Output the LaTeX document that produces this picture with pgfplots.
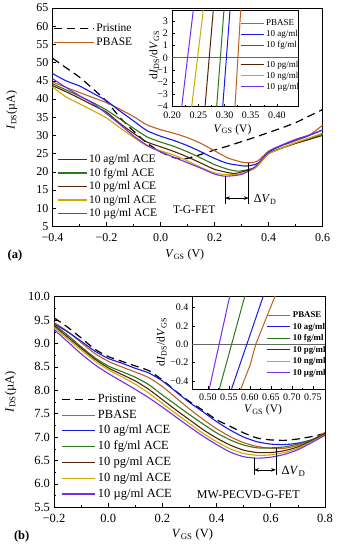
\documentclass[border=0pt]{standalone}
\usepackage{pgfplots}
\pgfplotsset{compat=1.18}
\usepackage{fontspec}
\setmainfont{Liberation Serif}
\usetikzlibrary{arrows.meta}
\definecolor{cpb}{RGB}{190,95,35}
\definecolor{cag}{RGB}{25,25,235}
\definecolor{cfg}{RGB}{45,120,25}
\definecolor{cpg}{RGB}{85,35,10}
\definecolor{cng}{RGB}{205,170,0}
\definecolor{cug}{RGB}{115,45,235}
\newcommand{\fs}[1]{\fontsize{#1}{#1}\selectfont}
\pgfplotsset{
  base/.style={scale only axis, anchor=south west,
    /pgf/number format/assume math mode=true,
    axis line style={line width=0.7pt},
    every tick/.style={black, line width=0.6pt},
    major tick length=4pt, minor tick length=2pt, tick align=inside,
    xtick pos=left, ytick pos=left},
  crv/.style={line width=1.1pt, smooth, tension=0.35},
}
\begin{document}
\begin{tikzpicture}
\path[use as bounding box] (0pt,0pt) rectangle (339pt,550pt);

%================ Panel (a) main ================
\begin{axis}[base, at={(52.5pt,323.5pt)}, width=270pt, height=218.5pt,
  xmin=-0.4, xmax=0.6, ymin=5, ymax=65,
  xtick={-0.4,-0.2,0,0.2,0.4,0.6}, xticklabels={−0.4,−0.2,0.0,0.2,0.4,0.6},
  ytick={5,10,...,65}, minor x tick num=1,
  ticklabel style={font=\fs{12}},
  xticklabel style={yshift=-3pt},
  yticklabel style={xshift=-0.5pt},
  xlabel={\textit{V}\textsubscript{GS} (V)}, ylabel={\textit{I}\textsubscript{DS}(µA)},
  label style={font=\fs{12}},
  xlabel style={at={(axis description cs:0.49,-0.13)}, anchor=center},
  ylabel style={at={(axis description cs:-0.151,0.533)}, anchor=center},
  legend cell align=left,
  legend image code/.code={\draw[#1] (0pt,0pt) -- (40pt,0pt);},
  legend style={at={(axis description cs:0.002,0.874)}, anchor=west, draw=none, fill=none, inner sep=0pt,
    font=\fs{11.5}, nodes={inner sep=0pt, text height=8.5pt, text depth=2.5pt}, row sep=3.4pt,
    /tikz/every odd column/.append style={column sep=2pt}},
]
\addplot[black, line width=1.2pt, dash pattern=on 8pt off 5pt, smooth, tension=0.35] table {
-0.40 51.2
-0.35 48.6
-0.30 46.0
-0.25 42.8
-0.20 39.4
-0.15 34.9
-0.10 31.2
-0.05 27.9
0.00 25.5
0.05 23.9
0.08 23.6
0.10 23.7
0.15 24.8
0.20 26.0
0.25 27.1
0.30 28.3
0.35 29.5
0.40 30.8
0.45 32.1
0.50 33.5
0.55 35.3
0.60 37.1
};
\addlegendentry{Pristine}
\addplot[cpb, crv] table {
-0.40 44.7
-0.35 43.2
-0.30 41.8
-0.25 40.4
-0.20 39.0
-0.15 37.2
-0.10 35.2
-0.05 32.9
0.00 31.6
0.05 30.6
0.10 29.4
0.15 27.8
0.20 25.8
0.25 23.8
0.30 22.7
0.33 22.5
0.36 23.0
0.40 25.6
0.45 27.2
0.50 28.5
0.55 30.0
0.60 32.8
};
\addlegendentry{PBASE}
\addplot[cag, crv, forget plot] table {
-0.40 47.0
-0.35 45.0
-0.30 43.6
-0.25 41.6
-0.20 39.5
-0.15 36.7
-0.10 34.0
-0.05 31.3
0.00 29.8
0.05 28.6
0.10 27.2
0.15 25.5
0.20 23.7
0.25 22.3
0.30 21.7
0.32 21.6
0.36 22.3
0.40 25.4
0.45 27.3
0.50 28.8
0.55 30.0
0.60 31.5
};
\addplot[cfg, crv, forget plot] table {
-0.40 44.2
-0.35 42.5
-0.30 40.8
-0.25 39.0
-0.20 37.0
-0.15 34.5
-0.10 32.0
-0.05 29.6
0.00 28.2
0.05 27.0
0.10 25.5
0.15 23.8
0.20 22.0
0.25 20.7
0.29 20.2
0.35 21.2
0.40 25.0
0.45 26.6
0.50 27.9
0.55 29.0
0.60 30.4
};
\addplot[cpg, crv, forget plot] table {
-0.40 43.7
-0.35 42.0
-0.30 40.2
-0.25 38.3
-0.20 36.4
-0.15 33.3
-0.10 30.6
-0.05 28.2
0.00 26.9
0.05 25.6
0.10 24.1
0.15 22.4
0.20 20.7
0.25 19.8
0.28 19.6
0.35 21.2
0.40 25.0
0.45 26.5
0.50 27.8
0.55 28.9
0.60 30.0
};
\addplot[cng, crv, forget plot] table {
-0.40 43.3
-0.35 40.6
-0.30 38.7
-0.25 36.8
-0.20 34.8
-0.15 32.1
-0.10 29.5
-0.05 27.1
0.00 25.8
0.05 24.6
0.10 23.0
0.15 21.2
0.20 19.7
0.25 19.2
0.30 19.5
0.35 21.0
0.40 24.9
0.45 26.5
0.50 28.0
0.55 29.3
0.60 30.6
};
\addplot[cug, crv, forget plot] table {
-0.40 45.6
-0.35 43.2
-0.30 40.9
-0.25 38.8
-0.20 36.0
-0.15 33.0
-0.10 29.9
-0.05 27.3
0.00 25.5
0.05 24.0
0.10 22.5
0.15 21.0
0.20 19.4
0.24 18.8
0.30 19.3
0.35 21.4
0.40 25.6
0.45 27.4
0.50 28.9
0.55 30.1
0.60 31.5
};
\draw[line width=0.6pt] (axis cs:0.239,18.8) -- (axis cs:0.239,11.2);
\draw[line width=0.6pt] (axis cs:0.327,22.5) -- (axis cs:0.327,11.2);
\draw[line width=0.6pt, {Stealth[length=5pt,width=3.5pt]}-{Stealth[length=5pt,width=3.5pt]}] (axis cs:0.239,12.8) -- (axis cs:0.327,12.8);
\node[anchor=west, font=\fs{12}] at (axis cs:0.333,12.3) {Δ\textit{V}\textsubscript{D}};
\node[font=\fs{11.5}] at (axis cs:0.125,9.6) {T-G-FET};
\end{axis}

% bottom legend of panel (a)
\begin{axis}[hide axis, scale only axis, anchor=south west, at={(52.5pt,323.5pt)}, width=270pt, height=218.5pt,
  xmin=0, xmax=1, ymin=0, ymax=1,
  legend cell align=left,
  legend image code/.code={\draw[#1] (0pt,0pt) -- (29pt,0pt);},
  legend style={at={(axis description cs:0.016,0.183)}, anchor=west, draw=none, fill=none, inner sep=0pt,
    font=\fs{11.5}, nodes={inner sep=0pt, text height=8.5pt, text depth=2.5pt}, row sep=2.5pt,
    /tikz/every odd column/.append style={column sep=2pt}},
]
\addlegendimage{cag, line width=1.1pt}\addlegendentry{10 ag/ml ACE}
\addlegendimage{cfg, line width=1.1pt}\addlegendentry{10 fg/ml ACE}
\addlegendimage{cpg, line width=1.1pt}\addlegendentry{10 pg/ml ACE}
\addlegendimage{cng, line width=1.1pt}\addlegendentry{10 ng/ml ACE}
\addlegendimage{cug, line width=1.1pt}\addlegendentry{10 µg/ml ACE}
\end{axis}

%================ Panel (a) inset ================
\begin{axis}[base, at={(172pt,443.3pt)}, width=126pt, height=96.7pt,
  xmin=0.2, xmax=0.44, ymin=-4, ymax=3.9,
  xtick={0.2,0.25,0.3,0.35,0.4}, xticklabels={0.20,0.25,0.30,0.35,0.40},
  ytick={-4,-3,...,3}, yticklabels={−4,−3,−2,−1,0,1,2,3},
  minor x tick num=1,
  major tick length=3pt, minor tick length=1.5pt,
  ticklabel style={font=\fs{10}},
  xticklabel style={yshift=-2pt},
  yticklabel style={xshift=-0.5pt},
  xlabel={\textit{V}\textsubscript{GS} (V)}, ylabel={d\textit{I}\textsubscript{DS}/d\textit{V}\textsubscript{GS}},
  label style={font=\fs{11.5}},
  xlabel style={at={(axis description cs:0.48,-0.235)}, anchor=center},
  ylabel style={at={(axis description cs:-0.14,0.535)}, anchor=center},
  legend cell align=left,
  legend image code/.code={\draw[#1] (0pt,0pt) -- (23pt,0pt);},
  legend style={at={(axis description cs:0.54,0.745)}, anchor=west, draw=none, fill=none, inner sep=0pt,
    font=\fs{9}, nodes={inner sep=0pt, text height=6.5pt, text depth=2pt}, row sep=2.5pt,
    /tikz/every odd column/.append style={column sep=2pt}},
]
\addplot[black!60, line width=0.8pt, forget plot] coordinates {(0.2,0) (0.44,0)};
\addplot[cpb, line width=1pt] coordinates {(0.3200,-4) (0.3309,3.9)};
\addlegendentry{PBASE}
\addplot[cag, line width=1pt] coordinates {(0.2966,-4) (0.3105,3.9)};
\addlegendentry{10 ag/ml}
\addplot[cfg, line width=1pt] coordinates {(0.2851,-4) (0.2990,3.9)};
\addlegendentry{10 fg/ml}
\addplot[cpg, line width=1pt, forget plot] coordinates {(0.2629,-4) (0.2787,3.9)};
\addplot[cng, line width=1pt, forget plot] coordinates {(0.2375,-4) (0.2596,3.9)};
\addplot[cug, line width=1pt, forget plot] coordinates {(0.2185,-4) (0.2406,3.9)};
\end{axis}
\begin{axis}[hide axis, scale only axis, anchor=south west, at={(172pt,443.3pt)}, width=126pt, height=96.7pt,
  xmin=0, xmax=1, ymin=0, ymax=1,
  legend cell align=left,
  legend image code/.code={\draw[#1] (0pt,0pt) -- (23pt,0pt);},
  legend style={at={(axis description cs:0.54,0.319)}, anchor=west, draw=none, fill=none, inner sep=0pt,
    font=\fs{9}, nodes={inner sep=0pt, text height=6.5pt, text depth=2pt}, row sep=2.5pt,
    /tikz/every odd column/.append style={column sep=2pt}},
]
\addlegendimage{cpg, line width=1pt}\addlegendentry{10 pg/ml}
\addlegendimage{cng, line width=1pt}\addlegendentry{10 ng/ml}
\addlegendimage{cug, line width=1pt}\addlegendentry{10 µg/ml}
\end{axis}

%================ Panel (b) main ================
\begin{axis}[base, at={(54pt,42.7pt)}, width=271pt, height=210.6pt,
  xmin=-0.2, xmax=0.8, ymin=5.5, ymax=10,
  xtick={-0.2,0,0.2,0.4,0.6,0.8}, xticklabels={−0.2,0.0,0.2,0.4,0.6,0.8},
  ytick={5.5,6,...,10}, yticklabels={5.5,6.0,6.5,7.0,7.5,8.0,8.5,9.0,9.5,10.0},
  minor x tick num=1, minor y tick num=1,
  ticklabel style={font=\fs{12.5}},
  xticklabel style={yshift=-3pt},
  yticklabel style={xshift=-0.5pt},
  xlabel={\textit{V}\textsubscript{GS} (V)}, ylabel={\textit{I}\textsubscript{DS}(µA)},
  label style={font=\fs{12.5}},
  xlabel style={at={(axis description cs:0.511,-0.128)}, anchor=center},
  ylabel style={at={(axis description cs:-0.16,0.549)}, anchor=center},
  legend cell align=left,
  legend image code/.code={\draw[#1] (0pt,0pt) -- (33pt,0pt);},
  legend style={at={(axis description cs:0.028,0.288)}, anchor=west, draw=none, fill=none, inner sep=0pt,
    font=\fs{12.5}, nodes={inner sep=0pt, text height=9pt, text depth=3pt}, row sep=3.8pt,
    /tikz/every odd column/.append style={column sep=2pt}},
]
\addplot[black, line width=1.2pt, dash pattern=on 8pt off 5pt, smooth, tension=0.35] table {
-0.20 9.55
-0.15 9.35
-0.10 9.12
-0.05 8.88
0.00 8.72
0.05 8.62
0.10 8.52
0.15 8.42
0.20 8.22
0.25 7.98
0.30 7.76
0.35 7.57
0.40 7.37
0.45 7.23
0.50 7.09
0.55 6.98
0.60 6.94
0.65 6.93
0.70 6.96
0.75 7.01
0.80 7.08
};
\addlegendentry{Pristine}
\addplot[cpb, crv] table {
-0.20 9.45
-0.15 9.26
-0.10 9.02
-0.05 8.79
0.00 8.62
0.05 8.50
0.10 8.39
0.15 8.27
0.20 8.08
0.25 7.84
0.30 7.60
0.35 7.38
0.40 7.18
0.45 7.01
0.50 6.88
0.55 6.80
0.60 6.76
0.65 6.76
0.70 6.82
0.75 6.93
0.80 7.10
};
\addlegendentry{PBASE}
\addplot[cag, crv] table {
-0.20 9.42
-0.15 9.25
-0.10 9.05
-0.05 8.84
0.00 8.68
0.05 8.58
0.10 8.47
0.15 8.37
0.20 8.20
0.25 7.97
0.30 7.74
0.35 7.54
0.40 7.33
0.45 7.15
0.50 7.00
0.55 6.90
0.60 6.85
0.65 6.84
0.70 6.87
0.75 6.94
0.80 7.04
};
\addlegendentry{10 ag/ml ACE}
\addplot[cfg, crv] table {
-0.20 9.40
-0.15 9.18
-0.10 8.93
-0.05 8.70
0.00 8.52
0.05 8.40
0.10 8.28
0.15 8.12
0.20 7.90
0.25 7.69
0.30 7.48
0.35 7.28
0.40 7.09
0.45 6.94
0.50 6.83
0.55 6.77
0.60 6.77
0.65 6.79
0.70 6.85
0.75 6.94
0.80 7.06
};
\addlegendentry{10 fg/ml ACE}
\addplot[cpg, crv] table {
-0.20 9.38
-0.15 9.14
-0.10 8.90
-0.05 8.67
0.00 8.48
0.05 8.34
0.10 8.20
0.15 8.02
0.20 7.80
0.25 7.58
0.30 7.37
0.35 7.16
0.40 6.98
0.45 6.83
0.50 6.72
0.55 6.67
0.60 6.67
0.65 6.71
0.70 6.79
0.75 6.92
0.80 7.08
};
\addlegendentry{10 pg/ml ACE}
\addplot[cng, crv] table {
-0.20 9.34
-0.15 9.10
-0.10 8.86
-0.05 8.63
0.00 8.44
0.05 8.29
0.10 8.13
0.15 7.94
0.20 7.72
0.25 7.50
0.30 7.29
0.35 7.08
0.40 6.90
0.45 6.75
0.50 6.65
0.55 6.61
0.60 6.62
0.65 6.67
0.70 6.76
0.75 6.90
0.80 7.05
};
\addlegendentry{10 ng/ml ACE}
\addplot[cug, crv] table {
-0.20 9.30
-0.15 9.04
-0.10 8.78
-0.05 8.55
0.00 8.36
0.05 8.19
0.10 8.02
0.15 7.84
0.20 7.64
0.25 7.43
0.30 7.22
0.35 7.02
0.40 6.84
0.45 6.68
0.50 6.58
0.55 6.55
0.60 6.57
0.65 6.63
0.70 6.73
0.75 6.88
0.80 7.04
};
\addlegendentry{10 µg/ml ACE}
\draw[line width=0.6pt] (axis cs:0.538,6.56) -- (axis cs:0.538,6.19);
\draw[line width=0.6pt] (axis cs:0.619,6.76) -- (axis cs:0.619,6.19);
\draw[line width=0.6pt, {Stealth[length=5pt,width=3.5pt]}-{Stealth[length=5pt,width=3.5pt]}] (axis cs:0.538,6.30) -- (axis cs:0.619,6.30);
\node[anchor=west, font=\fs{12.5}] at (axis cs:0.627,6.26) {Δ\textit{V}\textsubscript{D}};
\node[font=\fs{12}] at (axis cs:0.517,5.78) {MW-PECVD-G-FET};
\end{axis}

%================ Panel (b) inset ================
\begin{axis}[base, at={(192pt,160.7pt)}, width=133pt, height=93.3pt,
  xmin=0.462, xmax=0.779, ymin=-0.49, ymax=0.525,
  xtick={0.5,0.55,0.6,0.65,0.7,0.75}, xticklabels={0.50,0.55,0.60,0.65,0.70,0.75},
  ytick={-0.4,-0.2,0,0.2,0.4}, yticklabels={−0.4,−0.2,0.0,0.2,0.4},
  minor x tick num=1, minor y tick num=1,
  major tick length=3pt, minor tick length=1.5pt,
  ticklabel style={font=\fs{10}},
  xticklabel style={yshift=-1pt},
  xlabel={\textit{V}\textsubscript{GS} (V)}, ylabel={d\textit{I}\textsubscript{DS}/d\textit{V}\textsubscript{GS}},
  label style={font=\fs{11.5}},
  xlabel style={at={(axis description cs:0.534,-0.22)}, anchor=center},
  ylabel style={at={(axis description cs:-0.228,0.504)}, anchor=center},
  legend cell align=left,
  legend image code/.code={\draw[#1] (0pt,0pt) -- (23pt,0pt);},
  legend style={at={(axis description cs:0.562,0.484)}, anchor=west, draw=none, fill=none, inner sep=0pt,
    font=\fs{8.8}\bfseries, nodes={inner sep=0pt, text height=6.8pt, text depth=2pt}, row sep=2.66pt,
    /tikz/every odd column/.append style={column sep=2pt}},
]
\addplot[black!60, line width=0.8pt, forget plot] coordinates {(0.462,0) (0.779,0)};
\addplot[cpb, line width=1pt] coordinates {(0.578,-0.49) (0.601,-0.22) (0.614,0) (0.660,0.525)};
\addlegendentry{PBASE}
\addplot[cag, line width=1pt] coordinates {(0.556,-0.49) (0.632,0.525)};
\addlegendentry{10 ag/ml}
\addplot[cfg, line width=1pt] coordinates {(0.527,-0.49) (0.588,0.525)};
\addlegendentry{10 fg/ml}
\addlegendimage{cpg, line width=1pt}\addlegendentry{10 pg/ml}
\addlegendimage{cng, line width=1pt}\addlegendentry{10 ng/ml}
\addplot[cug, line width=1pt] coordinates {(0.503,-0.49) (0.552,0.525)};
\addlegendentry{10 µg/ml}
\end{axis}

\node[font=\fs{12.5}\bfseries] at (15pt,295pt) {(a)};
\node[font=\fs{12.5}\bfseries] at (21.7pt,13.3pt) {(b)};
\end{tikzpicture}
\end{document}
